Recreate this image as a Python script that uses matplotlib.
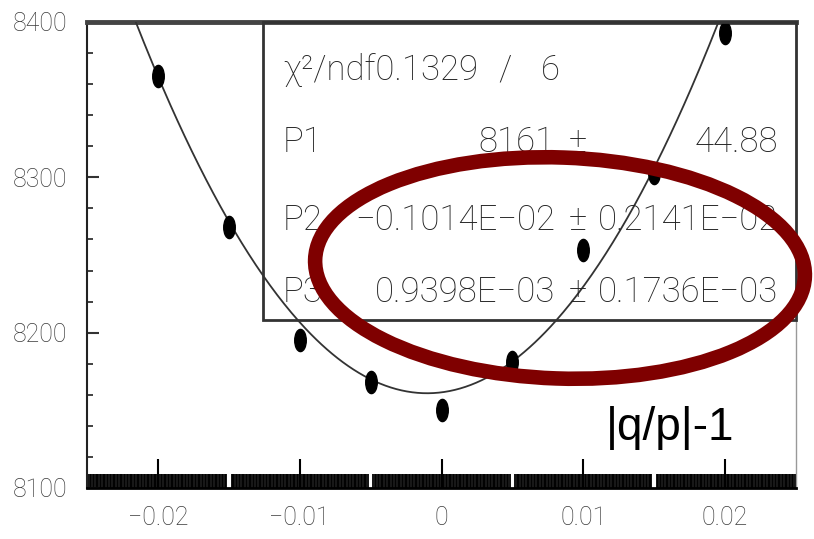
import numpy as np
import matplotlib
matplotlib.use('Agg')
import matplotlib.pyplot as plt
from matplotlib.patches import Ellipse, Rectangle
from matplotlib.path import Path
from matplotlib.ticker import FixedLocator, MultipleLocator, FixedFormatter

# ---- data ----
x_vals = [-0.02, -0.015, -0.01, -0.005, 0.0, 0.005, 0.01, 0.015, 0.02]
y_vals = [8365, 8268, 8195, 8168, 8150, 8181, 8253, 8303, 8393]
fit_p1 = 8161.0
fit_p2 = -0.1014e-02
fit_p3 = 0.9398e-03
x_ticks = [-0.02, -0.01, 0.0, 0.01, 0.02]
x_tick_labels = ['\u22120.02', '\u22120.01', '0', '0.01', '0.02']
y_ticks = [8100, 8200, 8300, 8400]
y_tick_labels = ['8100', '8200', '8300', '8400']
chi2_text = '\u03c7\u00b2/ndf0.1329'
ndf_text = '6'
param_names = ['P1', 'P2', 'P3']
param_values = ['8161', '\u22120.1014E\u221202', '0.9398E\u221203']
param_errors = ['44.88', '0.2141E\u221202', '0.1736E\u221203']
x_label = '|q/p|-1'

W, H = 814, 539
fig = plt.figure(figsize=(W / 100, H / 100), dpi=100)
fig.patch.set_facecolor('white')

def fx(px):
    return px / W

def fy(py):
    return 1 - py / H

ax = fig.add_axes([fx(87), fy(488), (796 - 87) / W, (488 - 22) / H])
ax.set_xlim(-0.025, 0.025)
ax.set_ylim(8100, 8400)

narrow = ['Roboto', 'DejaVu Sans']

# fit curve
xs = np.linspace(-0.025, 0.025, 400)
ys = fit_p1 + 0.5 * ((xs - fit_p2) / fit_p3) ** 2
ax.plot(xs, ys, color='#333333', lw=1.3, zorder=3)

# points (slightly elongated ellipse markers as in the scan)
circ = Path.unit_circle()
ell_marker = Path(circ.vertices * np.array([0.52, 1.0]), circ.codes)
ax.plot(x_vals, y_vals, linestyle='none', marker=ell_marker, ms=16,
        color='black', zorder=4)

# spines
ax.spines['left'].set_color('#222222')
ax.spines['left'].set_linewidth(1.5)
ax.spines['bottom'].set_color('black')
ax.spines['bottom'].set_linewidth(2)
ax.spines['top'].set_color('#444444')
ax.spines['top'].set_linewidth(3.5)
ax.spines['right'].set_color('#999999')
ax.spines['right'].set_linewidth(1)

# ticks
ax.xaxis.set_major_locator(FixedLocator(x_ticks))
ax.xaxis.set_major_formatter(FixedFormatter(x_tick_labels))
half = [-0.015, -0.005, 0.005, 0.015]
minor_x = [v for v in np.arange(-0.025, 0.02501, 0.0001)
           if min(abs(v - h) for h in half) > 0.00012]
ax.xaxis.set_minor_locator(FixedLocator(minor_x))
ax.yaxis.set_major_locator(FixedLocator(y_ticks))
ax.yaxis.set_major_formatter(FixedFormatter(y_tick_labels))
ax.yaxis.set_minor_locator(MultipleLocator(20))

ax.tick_params(axis='x', which='major', direction='in', length=21, width=1.5,
               color='black', pad=13, labelsize=18, labelcolor='#3a3a3a')
ax.tick_params(axis='x', which='minor', direction='in', length=10, width=1.3,
               color='black')
ax.tick_params(axis='y', which='major', direction='in', length=8.5, width=1.5,
               color='#333333', pad=14, labelsize=18, labelcolor='#3a3a3a')
ax.tick_params(axis='y', which='minor', direction='in', length=4.3, width=1.3,
               color='#333333')
for lab in ax.get_xticklabels() + ax.get_yticklabels():
    lab.set_family(narrow)
    lab.set_fontweight('light')

# stats box
box = Rectangle((fx(263), fy(320)), fx(796) - fx(263), fy(22) - fy(320),
                transform=fig.transFigure, fill=False, edgecolor='#333333',
                lw=2, zorder=5)
fig.patches.append(box)

tc = '#222222'
fs = 25
kw = dict(family=narrow, fontsize=fs, color=tc, va='baseline', fontweight='light')
fig.text(fx(283), fy(80), chi2_text, ha='left', **kw)
fig.text(fx(505), fy(80), '/', ha='center', **kw)
fig.text(fx(550), fy(80), ndf_text, ha='center', **kw)
baselines = [152, 230, 302]
for name, val, err, b in zip(param_names, param_values, param_errors, baselines):
    fig.text(fx(283), fy(b), name, ha='left', **kw)
    fig.text(fx(555), fy(b), val, ha='right', **kw)
    fig.text(fx(578), fy(b), '\u00b1', ha='center', **kw)
    fig.text(fx(778), fy(b), err, ha='right', **kw)

# axis title
fig.text(fx(606), fy(440), x_label, family=['Liberation Sans', 'DejaVu Sans'],
         fontsize=33, color='black', ha='left', va='baseline')

# highlight ellipse
ell = Ellipse((5.60, H / 100 - 2.68), 4.90, 2.21, angle=-2,
              transform=fig.dpi_scale_trans, fill=False,
              edgecolor='#7f0000', lw=10.5, zorder=10, clip_on=False)
fig.patches.append(ell)

fig.savefig('out.png', dpi=100, facecolor='white')
